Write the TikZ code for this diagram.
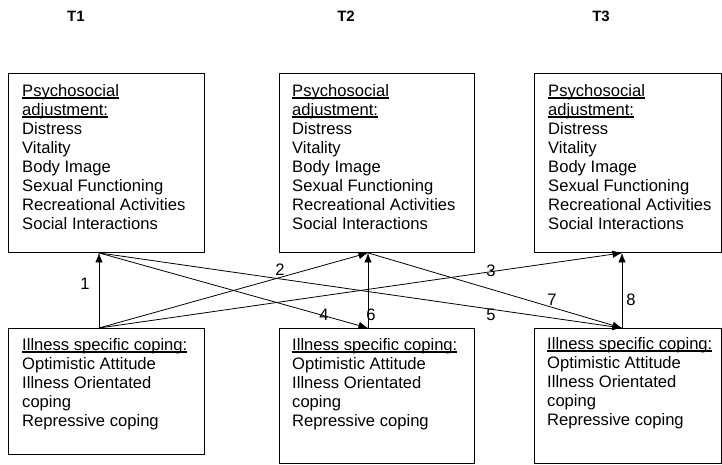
\documentclass[tikz,border=0pt]{standalone}
\usepackage{fontspec}
\setmainfont{Liberation Sans}
\usetikzlibrary{arrows.meta,calc}
\newcommand{\myul}[1]{\setbox0\hbox{#1}\rlap{\rule[-2.3pt]{\wd0}{1.2pt}}\box0}
\begin{document}
\begin{tikzpicture}[x=1pt,y=-1pt,
  box/.style={draw,line width=0.9pt,anchor=north west,inner sep=0pt},
  txt/.style={anchor=north west,inner sep=0pt,align=left,font=\fontsize{16.6}{19}\selectfont},
  hdr/.style={font=\bfseries\fontsize{15}{17}\selectfont,inner sep=0pt},
  num/.style={font=\fontsize{16.6}{19}\selectfont,inner sep=0pt},
  arr/.style={line width=0.8pt,-{Latex[length=9.5pt,width=7.5pt]}}]
\useasboundingbox (0,0) rectangle (722,465);

% headers
\node[hdr] (h1) at (76,16) {T1};
\node[hdr] (h2) at (346,16) {T2};
\node[hdr] (h3) at (601,16) {T3};

% boxes
\node[box,minimum width=196pt,minimum height=179pt] (top1) at (8,73) {};
\node[box,minimum width=195pt,minimum height=179pt] (top2) at (279,73) {};
\node[box,minimum width=187pt,minimum height=179pt] (top3) at (534,73) {};
\node[box,minimum width=196pt,minimum height=126pt] (bot1) at (8,328) {};
\node[box,minimum width=195pt,minimum height=135pt] (bot2) at (279,328) {};
\node[box,minimum width=187pt,minimum height=135pt] (bot3) at (534,328) {};

% texts
\newcommand{\psytext}{\myul{Psychosocial}\\\myul{adjustment:}\\Distress\\Vitality\\Body Image\\Sexual Functioning\\Recreational Activities\\Social Interactions}
\newcommand{\copetext}{\myul{Illness specific coping:}\\Optimistic Attitude\\Illness Orientated\\coping\\Repressive coping}
\node[txt] (tt1) at (22,84) {\psytext};
\node[txt] (tt2) at (292,84) {\psytext};
\node[txt] (tt3) at (548,84) {\psytext};
\node[txt] (bt1) at (22,338) {\copetext};
\node[txt] (bt2) at (292,338) {\copetext};
\node[txt] (bt3) at (547,337) {\copetext};

% connector end points
\coordinate (t1) at ($(top1.south west)+(91,0)$);
\coordinate (t2) at ($(top2.south west)+(89,0)$);
\coordinate (t3) at ($(top3.south west)+(88,0)$);
\coordinate (b1) at ($(bot1.north west)+(91,0)$);
\coordinate (b2) at ($(bot2.north west)+(89,0)$);
\coordinate (b3) at ($(bot3.north west)+(88,0)$);

\draw[arr] (b1) -- (t1);
\draw[arr] (b1) -- (t2);
\draw[arr] (b1) -- (t3);
\draw[arr] (t1) -- (b2);
\draw[arr] (t1) -- (b3);
\draw[arr] (b2) -- (t2);
\draw[arr] (t2) -- (b3);
\draw[arr] (b3) -- (t3);

% labels
\node[num] (n1) at (85,284) {1};
\node[num] (n2) at (280,270) {2};
\node[num] (n3) at (491,271) {3};
\node[num] (n4) at (324,315) {4};
\node[num] (n5) at (491,315) {5};
\node[num] (n6) at (371,315) {6};
\node[num] (n7) at (552,300) {7};
\node[num] (n8) at (631,300) {8};
\end{tikzpicture}
\end{document}
